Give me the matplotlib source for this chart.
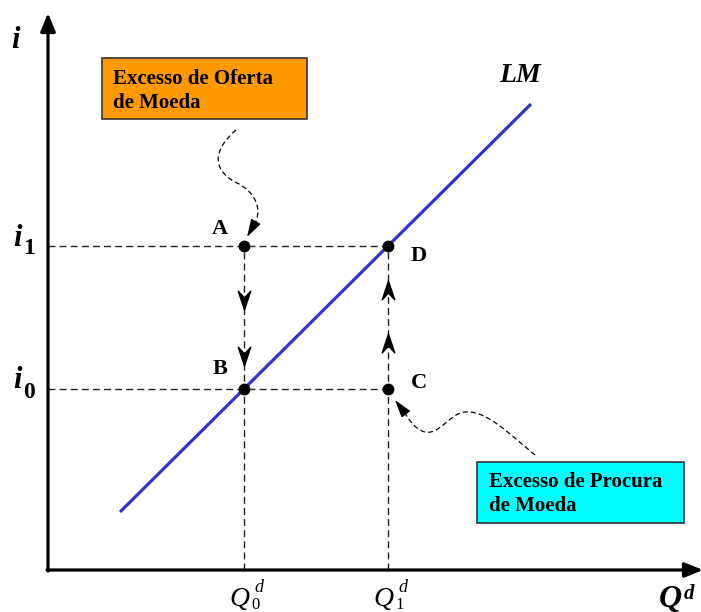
import numpy as np
import matplotlib
matplotlib.use("Agg")
import matplotlib.pyplot as plt
from matplotlib.path import Path
from matplotlib.patches import PathPatch, Rectangle

plt.rcParams["font.family"] = ["Liberation Serif", "DejaVu Serif"]

# ---------------------------------------------------------------------------
# Data (origin of the diagram = corner of the two axes)
# ---------------------------------------------------------------------------
q_levels = [196, 340]            # Q0^d, Q1^d
i_levels = [181, 324]            # i0, i1
lm_q = [72, 483]                 # LM curve end points
lm_i = [58, 466]
down_arrows_i = [271, 215]       # arrowheads on A -> B
up_arrows_i = [279, 226]         # arrowheads on C -> D
point_names = ["A", "B", "C", "D"]

x_max, y_max = 655, 557

BLUE = "#3333cc"
ORANGE = "#ff9900"
CYAN = "#00ffff"

fig = plt.figure(figsize=(7.01, 6.12), dpi=100)
ax = fig.add_axes([0, 0, 1, 1])
ax.set_xlim(-48, 653)
ax.set_ylim(-42, 570)
ax.axis("off")

# axes with arrow heads
head = "-|>,head_length=1.1,head_width=0.45"
ax.annotate("", xy=(0, y_max), xytext=(0, -1),
            arrowprops=dict(arrowstyle=head, lw=2.3, color="black",
                            shrinkA=0, shrinkB=0))
ax.annotate("", xy=(x_max, 0), xytext=(-1, 0), annotation_clip=False,
            arrowprops=dict(arrowstyle=head, lw=2.3, color="black",
                            shrinkA=0, shrinkB=0))

q0, q1 = q_levels
i0, i1 = i_levels
dash = dict(color="#222222", lw=1.0, linestyle=(0, (5, 3)))

# guide lines
ax.plot([0, q1], [i1, i1], **dash)
ax.plot([0, q1], [i0, i0], **dash)
ax.plot([q0, q0], [0, i1], **dash)
ax.plot([q1, q1], [0, i1], **dash)

# LM curve
ax.plot(lm_q, lm_i, color=BLUE, lw=2.3, solid_capstyle="butt")

# arrowheads along the adjustment paths
down_head = Path([(0, -1), (0.6, 0.8), (0, 0.15), (-0.6, 0.8), (0, -1)],
                 [Path.MOVETO, Path.LINETO, Path.LINETO, Path.LINETO, Path.CLOSEPOLY])
up_head = Path([(0, 1), (0.6, -0.8), (0, -0.15), (-0.6, -0.8), (0, 1)],
               [Path.MOVETO, Path.LINETO, Path.LINETO, Path.LINETO, Path.CLOSEPOLY])
ax.plot([q0] * len(down_arrows_i), down_arrows_i, linestyle="none",
        marker=down_head, markersize=15, color="black")
ax.plot([q1] * len(up_arrows_i), up_arrows_i, linestyle="none",
        marker=up_head, markersize=15, color="black")

# points A, B, C, D
pts_q = [q0, q0, q1, q1]
pts_i = [i1, i0, i0, i1]
ax.plot(pts_q, pts_i, "o", color="black", markersize=7.5)
label_off = [(-24, 17), (-24, 20), (31, 6), (31, -10)]
for name, q, i, (dx, dy) in zip(point_names, pts_q, pts_i, label_off):
    ax.text(q + dx, i + dy, name, fontsize=16, fontweight="bold",
            ha="center", va="center")

# axis labels
bi = dict(fontweight="bold", fontstyle="italic")
ax.text(-33, 530, "i", fontsize=22, ha="center", va="center", **bi)
for lev, sub in zip(i_levels, ["0", "1"]):
    ax.text(-31, lev + 8, "i", fontsize=22, ha="center", va="center", **bi)
    ax.text(-19, lev - 3, sub, fontsize=17, fontweight="bold",
            ha="center", va="center")
for lev, sub in zip(q_levels, ["0", "1"]):
    ax.text(lev - 5, -30, "Q", fontsize=20, fontstyle="italic",
            ha="center", va="center")
    ax.text(lev + 12, -35, sub, fontsize=12, ha="center", va="center")
    ax.text(lev + 15, -17, "d", fontsize=13, fontstyle="italic",
            ha="center", va="center")
ax.text(622, -29, "Q", fontsize=23, ha="center", va="center", **bi)
ax.text(641, -24, "d", fontsize=15, ha="center", va="center", **bi)
ax.text(472, 495, "LM", fontsize=20, ha="center", va="center", **bi)

# callout boxes
ax.add_patch(Rectangle((54, 451), 205, 61, facecolor=ORANGE,
                       edgecolor="#333333", lw=1.2))
ax.text(65, 491, "Excesso de Oferta", fontsize=15, fontweight="bold", va="center")
ax.text(65, 467, "de Moeda", fontsize=15, fontweight="bold", va="center")

ax.add_patch(Rectangle((429, 47), 207, 61, facecolor=CYAN,
                       edgecolor="#333333", lw=1.2))
ax.text(441, 88, "Excesso de Procura", fontsize=15, fontweight="bold", va="center")
ax.text(441, 64, "de Moeda", fontsize=15, fontweight="bold", va="center")

# wavy dashed pointers with an arrow head at the tip
C4 = Path.CURVE4
upper = Path([(188, 440), (167, 422), (162, 402), (187, 388),
              (207, 379), (217, 360), (204, 341)],
             [Path.MOVETO, C4, C4, C4, C4, C4, C4])
lower = Path([(487, 115), (457, 140), (437, 160), (417, 158),
              (402, 157), (392, 135), (377, 138),
              (366, 141), (360, 152), (354, 161)],
             [Path.MOVETO, C4, C4, C4, C4, C4, C4, C4, C4, C4])
tips = [((199, 333), (207, 347)), ((347, 170), (357, 157))]
for p, (tip, back) in zip((upper, lower), tips):
    ax.add_patch(PathPatch(p, facecolor="none", edgecolor="black", lw=0.9,
                           linestyle=(0, (4, 2.5))))
    ax.annotate("", xy=tip, xytext=back,
                arrowprops=dict(arrowstyle="-|>,head_length=1.0,head_width=0.3",
                                lw=0.9, color="black", shrinkA=0, shrinkB=0,
                                mutation_scale=11))

fig.savefig("out.png", dpi=100)
